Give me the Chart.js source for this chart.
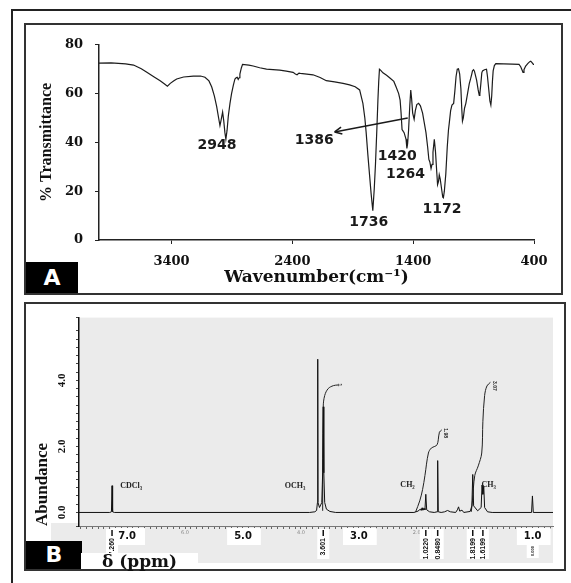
<!DOCTYPE html>
<html>
<head>
<meta charset="utf-8">
<script src="https://cdn.jsdelivr.net/npm/chart.js@4.4.1/dist/chart.umd.min.js"></script>
<style>
  body { margin: 0; width: 571px; height: 583px; overflow: hidden; background: #fff; position: relative; }
  #frame { position: absolute; left: 11px; top: 9px; width: 620px; height: 620px; border: 2px solid #222; box-sizing: border-box; }
  .panel { position: absolute; border: 2px solid #333; box-sizing: border-box; background: #fff; }
  #panelA { left: 24px; top: 23px; width: 539px; height: 272px; }
  #panelB { left: 24px; top: 302px; width: 542px; height: 269px; }
  canvas { position: absolute; left: 0; top: 0; }
  .tag { position: absolute; background: #000; color: #fff; font: bold 22px "DejaVu Sans"; text-align: center; }
  #tagA { left: 0; top: 237px; width: 52px; height: 31px; line-height: 31px; }
  #tagB { left: 0; top: 237px; width: 56px; height: 28px; line-height: 28px; }
  #ppm { position: absolute; left: 55px; top: 249px; width: 96px; height: 16px; padding-left: 21px;
         background: #fff; font: bold 17px "DejaVu Serif"; line-height: 16px; color: #111; }
</style>
</head>
<body>
<div id="frame"></div>
<div class="panel" id="panelA">
  <canvas id="irChart" width="535" height="268"></canvas>
  <div class="tag" id="tagA">A</div>
</div>
<div class="panel" id="panelB">
  <canvas id="nmrChart" width="538" height="265"></canvas>
  <div class="tag" id="tagB">B</div>
  <div id="ppm">δ (ppm)</div>
</div>
<script>
// ---- panel A : FTIR spectrum ----
const irWavenumber = [4000, 3900, 3780, 3714, 3650, 3604, 3550, 3494, 3460, 3434, 3410, 3380, 3357, 3300, 3219, 3160, 3123, 3090, 3067, 3045,
  3026, 3010, 2999, 2990, 2977, 2968, 2958, 2950, 2940, 2930, 2916, 2903, 2888, 2875, 2865, 2856, 2848, 2840, 2834, 2822,
  2812, 2760, 2724, 2670, 2614, 2560, 2504, 2450, 2394, 2375, 2361, 2345, 2334, 2280, 2229, 2170, 2119, 2050, 1980, 1926,
  1880, 1843, 1816, 1800, 1789, 1775, 1761, 1748, 1734, 1722, 1712, 1700, 1692, 1685, 1679, 1670, 1650, 1620, 1590, 1560,
  1541, 1520, 1508, 1500, 1492, 1482, 1475, 1466, 1459, 1452, 1446, 1438, 1428, 1420, 1413, 1404, 1392, 1382, 1370, 1355,
  1340, 1322, 1308, 1294, 1280, 1270, 1262, 1252, 1244, 1236, 1225, 1215, 1205, 1198, 1190, 1184, 1176, 1165, 1155, 1150,
  1142, 1130, 1118, 1108, 1101, 1090, 1079, 1065, 1055, 1045, 1035, 1025, 1015, 1005, 998, 992, 985, 975, 964, 950,
  936, 925, 915, 909, 900, 893, 887, 875, 862, 853, 848, 840, 832, 826, 810, 793, 785, 775, 765, 757,
  750, 744, 738, 728, 716, 650, 580, 524, 510, 498, 491, 483, 469, 450, 435, 427, 418, 405, 400];
const irTransmittance = [72.5, 72.6, 72.2, 71.7, 70.2, 68.7, 67, 65.3, 64, 63, 64.2, 65.3, 66, 66.8, 67.2, 67.2, 66.7, 65.2, 62.7, 59,
  54.7, 50, 46.9, 49, 52.4, 49, 44, 41.3, 45, 50.7, 56, 60, 63.5, 66, 66.5, 66.7, 65.8, 66.5, 68, 70.5,
  72, 71.7, 71.3, 70.6, 70, 69.8, 69.6, 69.2, 68.7, 68, 67.7, 68.4, 68.3, 68, 67.7, 66.6, 65.3, 64.8, 64.2, 63.6,
  62.8, 61.5, 56, 50, 44, 35, 26.7, 19, 12, 21, 31, 46, 57, 65, 70, 69.6, 68.5, 67.5, 66.3, 65,
  62.7, 60, 57.3, 52, 45.3, 44.5, 44, 42.5, 41.3, 37.5, 39.5, 45, 55, 61.5, 58, 52, 49.5, 53, 55.5, 56,
  55, 52, 48, 44, 38, 33, 32, 29.3, 31, 36, 41.3, 36, 28, 22.7, 24, 26.7, 25, 21, 17.5, 17.3,
  20, 27, 38, 45, 48, 53, 55.3, 56, 61, 67, 70, 70.2, 68, 62, 54, 48.7, 50, 54, 56, 60,
  64, 66, 68, 69.3, 69.8, 69.2, 68, 65.5, 61.5, 59.3, 60, 64, 68.5, 69.3, 69.8, 70, 67, 62, 57, 55.3,
  59, 65, 69.3, 71.5, 72.3, 72.2, 72.1, 72, 71, 69.6, 68.7, 69.8, 71.3, 72.4, 73.1, 73.3, 72.8, 72, 72];
const irTicks = [3400, 2400, 1400, 400];
const irPeakLabels = ['2948', '1386', '1420', '1264', '1736', '1172'];

// where each peak label sits, in axis units
const irLabelSpots = [[3024, 38.8], [2218, 40.7], [1532, 34.4], [1464, 26.7], [1767, 7.4], [1162, 12.4]];
const irArrow = { from: [1445, 50], to: [2050, 44.3] };

const irNotes = {
  id: 'irNotes',
  afterDatasetsDraw(chart) {
    const { ctx, scales: { x, y } } = chart;
    ctx.save();
    ctx.fillStyle = '#1a1a1a';
    ctx.font = 'bold 14px "DejaVu Sans"';
    ctx.textAlign = 'center';
    ctx.textBaseline = 'middle';
    irPeakLabels.forEach((t, i) => {
      ctx.fillText(t, x.getPixelForValue(irLabelSpots[i][0]), y.getPixelForValue(irLabelSpots[i][1]));
    });
    const x0 = x.getPixelForValue(irArrow.from[0]), y0 = y.getPixelForValue(irArrow.from[1]);
    const x1 = x.getPixelForValue(irArrow.to[0]), y1 = y.getPixelForValue(irArrow.to[1]);
    ctx.strokeStyle = '#1a1a1a';
    ctx.lineWidth = 1.5;
    ctx.beginPath();
    ctx.moveTo(x0, y0);
    ctx.lineTo(x1, y1);
    ctx.stroke();
    const ang = Math.atan2(y1 - y0, x1 - x0);
    ctx.beginPath();
    ctx.moveTo(x1, y1);
    ctx.lineTo(x1 - 8 * Math.cos(ang - 0.45), y1 - 8 * Math.sin(ang - 0.45));
    ctx.moveTo(x1, y1);
    ctx.lineTo(x1 - 8 * Math.cos(ang + 0.45), y1 - 8 * Math.sin(ang + 0.45));
    ctx.stroke();
    ctx.restore();
  }
};

new Chart(document.getElementById('irChart'), {
  type: 'line',
  data: {
    datasets: [{
      data: irWavenumber.map((w, i) => ({ x: w, y: irTransmittance[i] })),
      borderColor: '#1c1c1c',
      borderWidth: 1.2,
      pointRadius: 0,
      tension: 0
    }]
  },
  options: {
    responsive: false,
    animation: false,
    layout: { padding: { top: 14, right: 27, left: 0, bottom: 0 } },
    plugins: { legend: { display: false }, tooltip: { enabled: false } },
    scales: {
      x: {
        type: 'linear',
        reverse: true,
        min: 400,
        max: 4000,
        afterBuildTicks: s => { s.ticks = irTicks.map(v => ({ value: v })); },
        afterFit: s => { s.height = 53; },
        grid: { drawOnChartArea: false, tickLength: 4, color: '#222' },
        border: { color: '#222', width: 1.5 },
        ticks: {
          font: { family: 'DejaVu Serif', weight: 'bold', size: 13 }, color: '#111', padding: 10,
          maxRotation: 0, autoSkip: false, callback: v => String(v)
        },
        title: {
          display: true, text: 'Wavenumber(cm⁻¹)', color: '#111',
          font: { family: 'DejaVu Serif', weight: 'bold', size: 17 }, padding: { top: 0, bottom: 5 }
        }
      },
      y: {
        min: 0,
        max: 80,
        afterFit: s => { s.width = 73; },
        grid: { drawOnChartArea: false, tickLength: 4, color: '#222' },
        border: { color: '#222', width: 1.5 },
        ticks: { stepSize: 20, font: { family: 'DejaVu Serif', weight: 'bold', size: 13 }, color: '#111', padding: 12 },
        title: {
          display: true, text: '% Transmittance', color: '#111',
          font: { family: 'Liberation Serif', weight: 'bold', size: 16 }, padding: { top: 11, bottom: 0 }
        }
      }
    }
  },
  plugins: [irNotes]
});

// ---- panel B : 1H NMR spectrum ----
const nmrPpm = [7.83, 7.30, 7.27, 7.26, 7.25, 7.22, 3.85, 3.76, 3.73, 3.715, 3.71, 3.705, 3.68, 3.64, 3.625, 3.615, 3.605, 3.59, 3.56, 3.50,
  3.40, 2.05, 1.98, 1.94, 1.925, 1.91, 1.895, 1.875, 1.86, 1.845, 1.83, 1.78, 1.70, 1.65, 1.64, 1.63, 1.58, 1.52, 1.47, 1.42,
  1.33, 1.30, 1.28, 1.26, 1.22, 1.19, 1.08, 1.05, 1.035, 1.02, 0.95, 0.89, 0.875, 0.86, 0.845, 0.83, 0.78, 0.70, 0.02, 0.005,
  0.0, -0.01, -0.35];
const nmrAbundance = [0, 0, 0.02, 0.81, 0.02, 0, 0, 0.02, 0.06, 0.3, 4.64, 0.3, 0.15, 0.3, 1.2, 3.2, 1.2, 0.3, 0.1, 0.03,
  0, 0, 0.04, 0.1, 0.06, 0.14, 0.07, 0.12, 0.08, 0.55, 0.08, 0.02, 0, 0.02, 1.57, 0.02, 0, 0.02, 0.06, 0.02,
  0, 0.08, 0.17, 0.04, 0.07, 0, 0.03, 0.2, 1.15, 0.2, 0.05, 0.15, 0.83, 0.55, 0.8, 0.15, 0.02, 0, 0, 0.5,
  0.5, 0, 0];

// integral traces
const intOch3Ppm = [3.625, 3.615, 3.59, 3.53, 3.44, 3.36];
const intOch3Val = [0.05, 3.2, 3.54, 3.75, 3.84, 3.86];
const intCh2Ppm = [2.02, 1.95, 1.90, 1.86, 1.80, 1.75, 1.69, 1.65, 1.63, 1.61, 1.57];
const intCh2Val = [0.02, 0.35, 0.7, 1.12, 1.8, 1.95, 2.0, 2.05, 2.2, 2.43, 2.5];
const intCh3Ppm = [1.06, 1.04, 1.0, 0.94, 0.88, 0.86, 0.83, 0.79, 0.73];
const intCh3Val = [0.02, 0.35, 1.12, 1.41, 1.8, 2.76, 3.54, 3.83, 3.94];
const intLabels = ['1', '1.98', '3.07'];

const nmrTickValues = [7, 6, 5, 4, 3, 2, 1, 0];
const nmrTickLabels = ['7.0', '6.0', '5.0', '4.0', '3.0', '2.0', '1.0', '1.0'];
const nmrBigTicks = [7, 5, 3, 0];
const abundanceLabels = [0, 2, 4];

const shiftLabels = ['7.260', '3.601', '1.0220', '0.8480', '1.8199', '1.6199', '0.000'];
const shiftPpm = [7.26, 3.615, 1.845, 1.64, 1.035, 0.86, 0.0];
const groupLabels = ['CDCl₃', 'OCH₃', 'CH₂', 'CH₃'];

// label anchors in axis units
const groupSpots = [[6.93, 0.8], [4.10, 0.8], [2.16, 0.82], [0.76, 0.82]];
const intLabelSpots = [[3.33, 3.86], [1.51, 2.4], [0.66, 3.83]];

const near = (a, b) => Math.abs(a - b) < 1e-6;
const isBig = c => !!(c.tick && nmrBigTicks.some(v => near(v, c.tick.value)));
const pts = (xs, ys) => xs.map((v, i) => ({ x: v, y: ys[i] }));

const nmrDecor = {
  id: 'nmrDecor',
  beforeDraw(chart) {
    const { ctx, chartArea: a } = chart;
    ctx.save();
    ctx.fillStyle = '#ebebeb';
    ctx.fillRect(a.left, a.top, a.right - a.left, a.bottom - a.top);
    ctx.fillRect(a.left - 28, a.bottom - 3, a.right - a.left + 28, 40);
    ctx.restore();
  },
  afterDatasetsDraw(chart) {
    const { ctx, scales: { x, y } } = chart;
    ctx.save();
    ctx.fillStyle = '#222';
    ctx.font = 'bold 8px "Liberation Serif"';
    ctx.textAlign = 'center';
    ctx.textBaseline = 'middle';
    groupLabels.forEach((t, i) => ctx.fillText(t, x.getPixelForValue(groupSpots[i][0]), y.getPixelForValue(groupSpots[i][1])));
    ctx.font = 'bold 5px "Liberation Sans"';
    intLabels.forEach((t, i) => {
      ctx.save();
      ctx.translate(x.getPixelForValue(intLabelSpots[i][0]), y.getPixelForValue(intLabelSpots[i][1]));
      ctx.rotate(Math.PI / 2);
      ctx.fillText(t, 0, 0);
      ctx.restore();
    });
    ctx.restore();
  },
  afterDraw(chart) {
    const { ctx, scales: { x } } = chart;
    const b = chart.chartArea.bottom;
    const bigPx = nmrBigTicks.map(v => x.getPixelForValue(v));
    shiftLabels.forEach((t, i) => {
      const px = x.getPixelForValue(shiftPpm[i]);
      // under a big tick label the shift label is squeezed in below it
      const under = bigPx.some(p => Math.abs(p - px) < 12);
      ctx.save();
      ctx.fillStyle = '#fff';
      ctx.fillRect(px - 6, under ? b + 18 : b + 3, 12, under ? 14 : 30);
      if (!under) {
        ctx.strokeStyle = '#111';
        ctx.lineWidth = 1.5;
        ctx.beginPath();
        ctx.moveTo(px, b + 4);
        ctx.lineTo(px, b + 10);
        ctx.stroke();
      }
      ctx.translate(px, under ? b + 20 : b + 12);
      ctx.rotate(-Math.PI / 2);
      ctx.fillStyle = '#111';
      ctx.font = under ? 'bold 4px "Liberation Sans"' : 'bold 7px "Liberation Sans"';
      ctx.textAlign = 'right';
      ctx.textBaseline = 'middle';
      ctx.fillText(t, 0, 0);
      ctx.restore();
    });
  }
};

new Chart(document.getElementById('nmrChart'), {
  type: 'line',
  data: {
    datasets: [
      { data: pts(nmrPpm, nmrAbundance), borderColor: '#111', borderWidth: 1, pointRadius: 0, tension: 0 },
      { data: pts(intOch3Ppm, intOch3Val), borderColor: '#222', borderWidth: 1, pointRadius: 0, tension: 0.35 },
      { data: pts(intCh2Ppm, intCh2Val), borderColor: '#222', borderWidth: 1, pointRadius: 0, tension: 0.35 },
      { data: pts(intCh3Ppm, intCh3Val), borderColor: '#222', borderWidth: 1, pointRadius: 0, tension: 0.35 }
    ]
  },
  options: {
    responsive: false,
    animation: false,
    layout: { padding: { top: 4, right: 11, left: 0, bottom: 0 } },
    plugins: { legend: { display: false }, tooltip: { enabled: false } },
    scales: {
      x: {
        type: 'linear',
        reverse: true,
        min: -0.35,
        max: 7.83,
        afterFit: s => { s.height = 43; },
        grid: { drawOnChartArea: false, tickLength: 3, color: '#666' },
        border: { color: '#777', width: 1, dash: [2, 2] },
        ticks: {
          stepSize: 0.1,
          includeBounds: false,
          autoSkip: false,
          maxRotation: 0,
          padding: 1,
          color: c => isBig(c) ? '#111' : '#888',
          font: c => isBig(c)
            ? { family: 'DejaVu Sans', weight: 'bold', size: 10 }
            : { family: 'DejaVu Sans', size: 5 },
          showLabelBackdrop: c => isBig(c),
          backdropColor: '#fff',
          backdropPadding: { top: 2, bottom: 3, left: 7, right: 9 },
          callback: v => {
            const i = nmrTickValues.findIndex(t => near(t, v));
            return i < 0 ? '' : nmrTickLabels[i];
          }
        }
      },
      y: {
        min: -0.41,
        max: 5.9,
        afterFit: s => { s.width = 53; },
        grid: { drawOnChartArea: false, tickLength: 3, color: '#444' },
        border: { color: '#111', width: 1.5 },
        ticks: {
          stepSize: 0.25,
          autoSkip: false,
          minRotation: 90,
          maxRotation: 90,
          crossAlign: 'center',
          padding: 7,
          color: '#111',
          font: { family: 'Liberation Serif', weight: 'bold', size: 11 },
          callback: v => abundanceLabels.some(t => near(t, v)) ? v.toFixed(1) : ''
        },
        title: {
          display: true, text: 'Abundance', align: 'start', color: '#111',
          font: { family: 'Liberation Serif', weight: 'bold', size: 17 }, padding: { top: 6, bottom: 0 }
        }
      }
    }
  },
  plugins: [nmrDecor]
});
</script>
</body>
</html>
